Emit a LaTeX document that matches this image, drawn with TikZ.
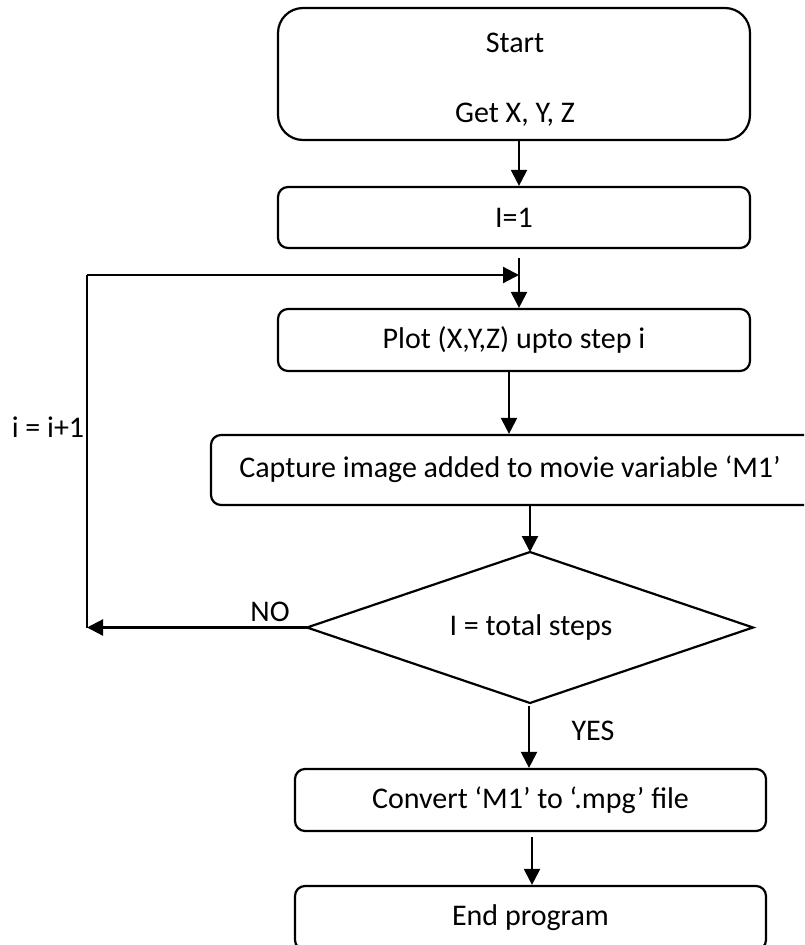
\documentclass[tikz,border=0pt]{standalone}
\usepackage{fontspec}
\setmainfont{Carlito}
\usetikzlibrary{arrows.meta}
\begin{document}
\begin{tikzpicture}[x=1pt,y=-1pt,
  every node/.style={font=\fontsize{30}{36}\selectfont, inner sep=0pt},
  box/.style={draw, line width=2.2pt, rectangle, rounded corners=10pt},
  arr/.style={line width=2.2pt, -{Triangle[width=16pt,length=16pt]}},
  line/.style={line width=2.2pt}]
\useasboundingbox (0,0) rectangle (804,945);
\clip (0,0) rectangle (804,945);
% boxes
\node[box, rounded corners=25pt, minimum width=472pt, minimum height=132pt] (start) at (514,74) {};
\node (starttxt) at (515,43) {Start};
\node (gettxt) at (515,115) {Get X, Y, Z};
\node[box, minimum width=472pt, minimum height=61pt] (init) at (514,217.5) {I=1};
\node[box, minimum width=472pt, minimum height=62pt] (plot) at (514,340) {Plot (X,Y,Z) upto step i};
\node[box, minimum width=619pt, minimum height=70pt] (capture) at (520.5,470) {};
\node (capturetxt) at (510,469) {Capture image added to movie variable ‘M1’};
% decision diamond
\coordinate (dtop) at (530,552);
\coordinate (dleft) at (307,627.5);
\coordinate (dright) at (753,627.5);
\coordinate (dbot) at (530,703);
\draw[line, line join=miter] (dtop) -- (dright) -- (dbot) -- (dleft) -- cycle;
\node (dec) at (531,627) {I = total steps};
\node[box, minimum width=471pt, minimum height=62pt] (convert) at (530.5,800) {Convert ‘M1’ to ‘.mpg’ file};
\node[box, minimum width=471pt, minimum height=64pt] (endp) at (530.5,918) {End program};
% labels
\node (no) at (270,612) {NO};
\node (yes) at (593,731) {YES};
\node (inc) at (48,427) {i = i+1};
% loop coordinates
\coordinate (loopA) at (87,627.5);
\coordinate (loopB) at (87,275);
\coordinate (loopC) at (519,275);
% connectors
\draw[arr] ([xshift=5pt]start.south) -- ([xshift=5pt]init.north);
\draw[arr, shorten <=9pt] ([xshift=5pt]init.south) -- ([xshift=5pt]plot.north);
\draw[arr] ([xshift=-5pt]plot.south) -- ([xshift=-5pt]plot.south |- capture.north);
\draw[arr] (dtop |- capture.south) -- (dtop);
\draw[arr, shorten <=3pt] ([xshift=-1pt]dbot) -- ([xshift=-1pt]dbot |- convert.north);
\draw[arr, shorten <=5pt] ([xshift=1.5pt]convert.south) -- ([xshift=1.5pt]endp.north);
\draw[arr] (dleft) -- (loopA);
\draw[line] (loopA) -- (loopB);
\draw[arr] (loopB) -- (loopC);
\end{tikzpicture}
\end{document}
